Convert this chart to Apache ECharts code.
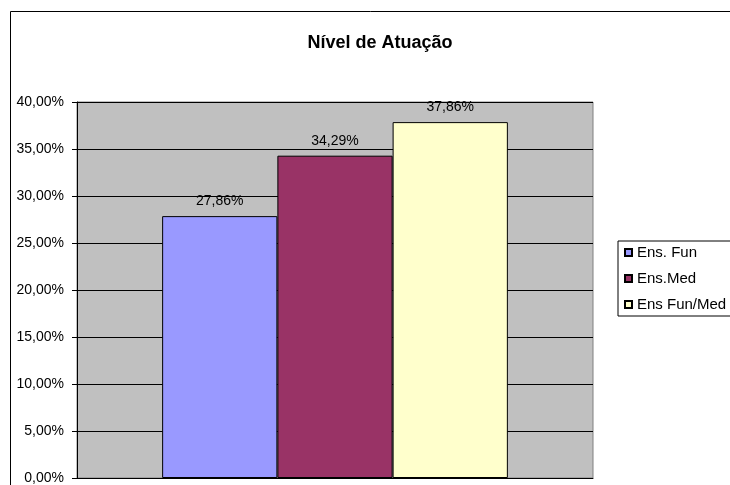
<!DOCTYPE html>
<html>
<head>
<meta charset="utf-8">
<script src="https://cdn.jsdelivr.net/npm/echarts@6/dist/echarts.min.js"></script>
<style>html,body{margin:0;padding:0;background:#fff}#c{width:730px;height:485px}</style>
</head>
<body>
<div id="c"></div>
<script>
var title = 'Nível de Atuação';
var categories = [''];
var seriesNames = ['Ens. Fun', 'Ens.Med', 'Ens Fun/Med'];
var seriesValues = [[0.2786], [0.3429], [0.3786]];
var seriesColors = ['#9999FF', '#993366', '#FFFFCC'];
var yMin = 0, yMax = 0.4, yStep = 0.05;

function pct(v) { return (v * 100).toFixed(2).replace('.', ',') + '%'; }

var chart = echarts.init(document.getElementById('c'));
var font = 'Arial, "Liberation Sans", sans-serif';
chart.setOption({
  animation: false,
  backgroundColor: '#fff',
  textStyle: { fontFamily: font },
  title: {
    text: title, left: 375, textAlign: 'center', top: 29,
    textStyle: { fontFamily: font, fontSize: 18, fontWeight: 'bold', color: '#000' }
  },
  graphic: [
    { type: 'line', shape: { x1: 10.5, y1: 11.5, x2: 730, y2: 11.5 }, style: { stroke: '#000', lineWidth: 1 } },
    { type: 'line', shape: { x1: 10.5, y1: 11.5, x2: 10.5, y2: 485 }, style: { stroke: '#000', lineWidth: 1 } }
  ],
  legend: {
    orient: 'vertical', left: 618, top: 241,
    data: seriesNames,
    icon: 'rect', itemWidth: 7, itemHeight: 7, itemGap: 11,
    borderColor: '#000', borderWidth: 1, borderRadius: 0,
    padding: [4, 20, 4, 6],
    textStyle: { fontFamily: font, fontSize: 15, color: '#000' }
  },
  grid: {
    left: 77, top: 102, right: 137, bottom: 7,
    show: true, backgroundColor: '#C0C0C0', borderColor: '#808080', borderWidth: 1
  },
  xAxis: {
    type: 'category', data: categories,
    axisLine: { show: true, lineStyle: { color: '#000' } },
    axisTick: { show: false }, axisLabel: { show: false }
  },
  yAxis: {
    type: 'value', min: yMin, max: yMax, interval: yStep,
    axisLine: { show: true, lineStyle: { color: '#000' } },
    axisTick: { show: true, length: 5, lineStyle: { color: '#000' } },
    axisLabel: { formatter: pct, fontFamily: font, fontSize: 14, color: '#000', margin: 13 },
    splitLine: { show: true, lineStyle: { color: '#000', width: 1 } }
  },
  series: seriesNames.map(function (n, i) {
    return {
      name: n, type: 'bar', data: seriesValues[i],
      barGap: '0%', barCategoryGap: '33%',
      itemStyle: { color: seriesColors[i], borderColor: '#000', borderWidth: 1 },
      label: { show: true, position: 'top', distance: 8, formatter: function (p) { return pct(p.value); },
        fontFamily: font, fontSize: 14, color: '#000' }
    };
  })
});
</script>
</body>
</html>
